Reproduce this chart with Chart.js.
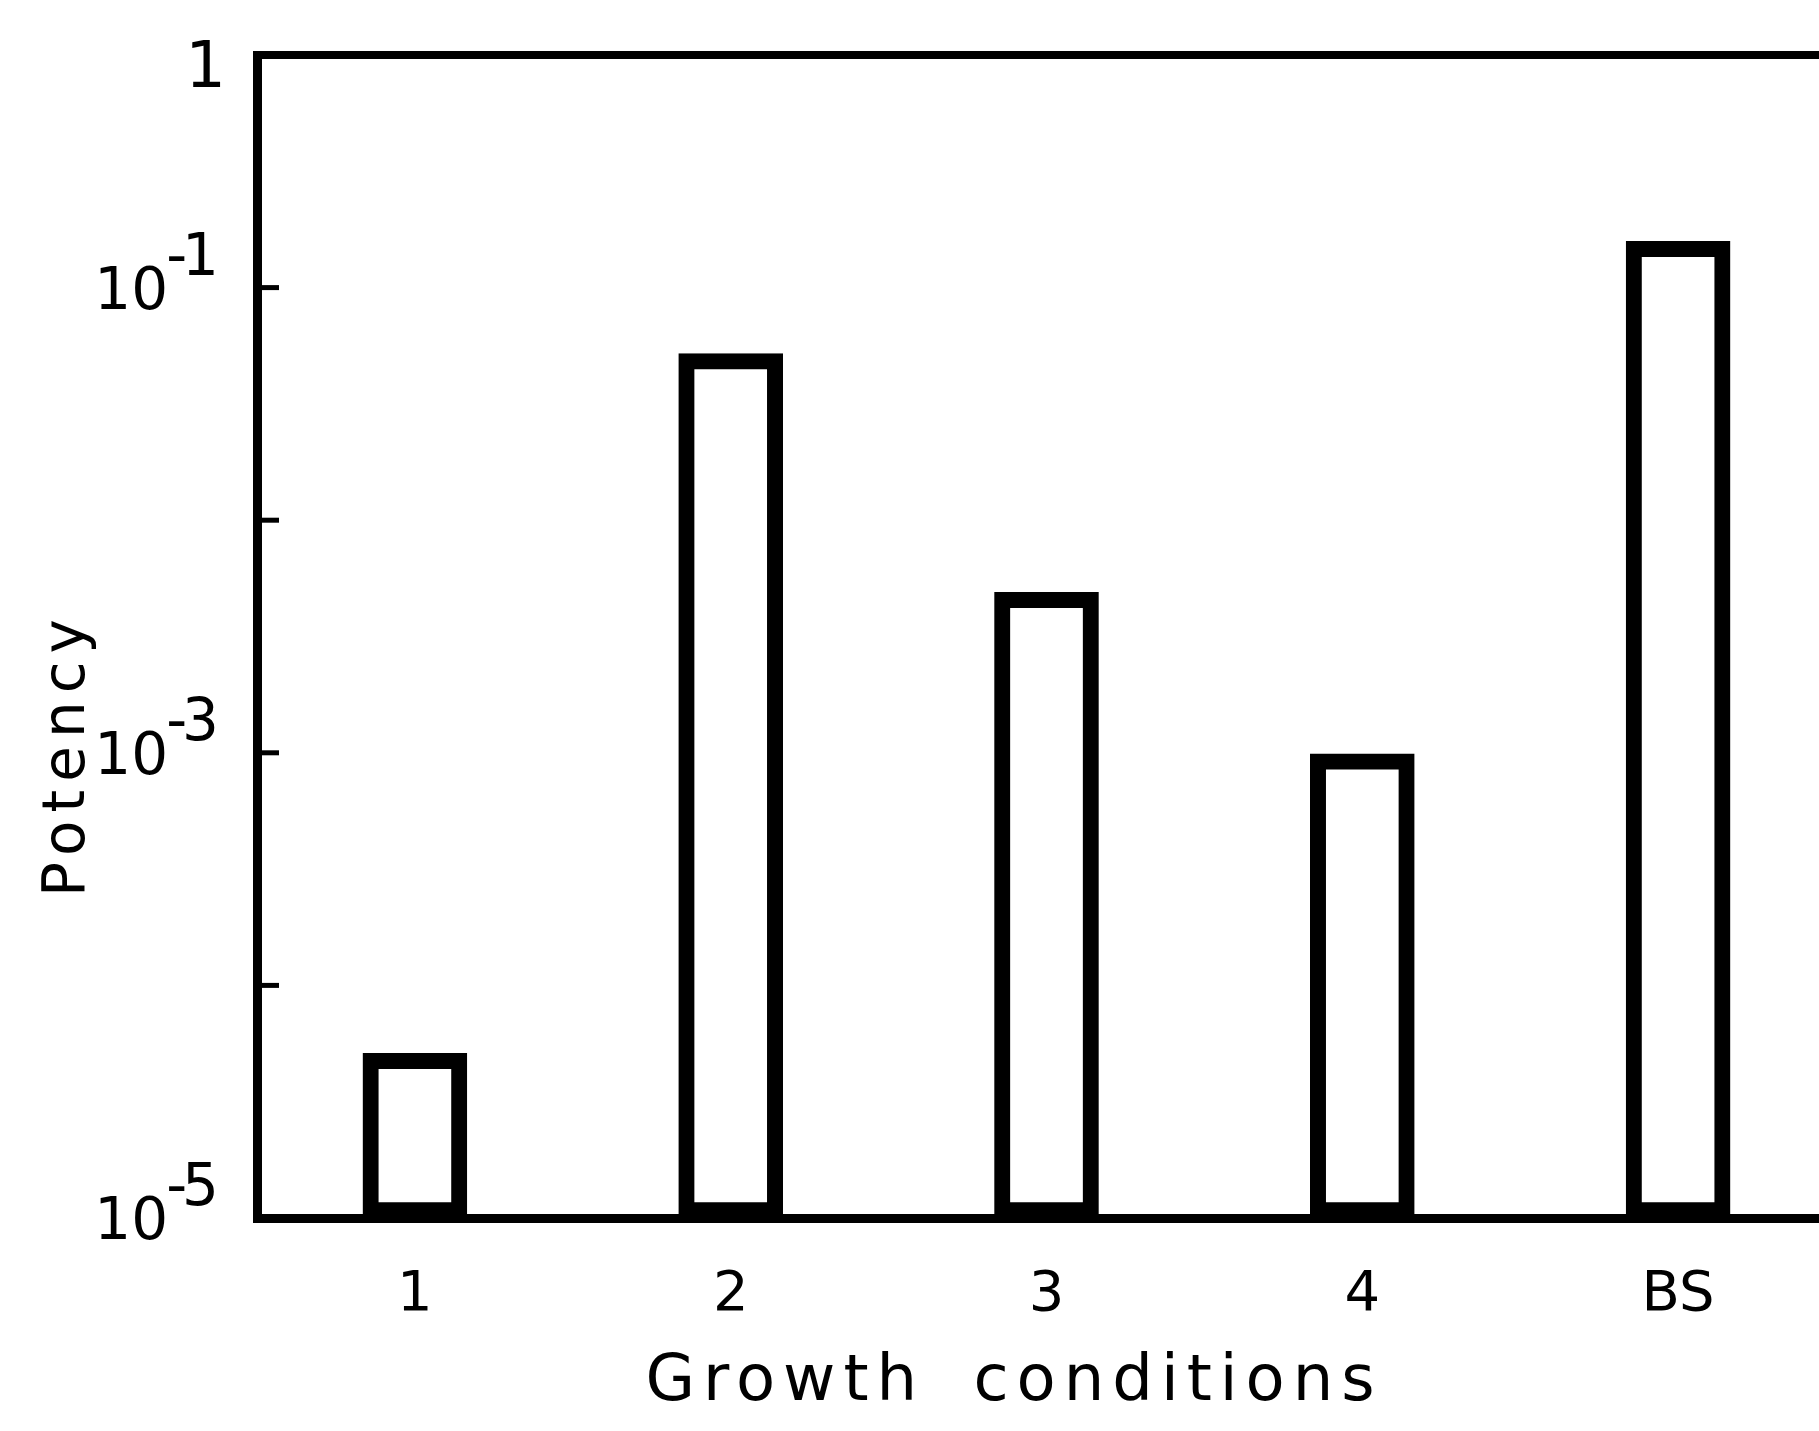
<!DOCTYPE html>
<html>
<head>
<meta charset="utf-8">
<script src="https://cdn.jsdelivr.net/npm/chart.js@4.4.0/dist/chart.umd.min.js"></script>
<style>
  html, body { margin: 0; padding: 0; background: #fff; overflow: hidden; }
  #wrap { width: 1819px; height: 1431px; overflow: hidden; }
  #inner { width: 1836px; height: 1431px; position: relative; }
</style>
</head>
<body>
<div id="wrap"><div id="inner"><canvas id="potencyChart"></canvas></div></div>
<script>
// growth conditions and measured potency (log scale)
const categories = ['1', '2', '3', '4', 'BS'];
const potency = [5.1e-5, 5.2e-2, 4.9e-3, 9.9e-4, 1.58e-1];

// y axis: decade tick marks and labelled decades
const decadeTicks = [1e-1, 1e-2, 1e-3, 1e-4];
const yLabelValues = [1, 1e-1, 1e-3, 1e-5];
const yLabelExponents = [null, '-1', '-3', '-5'];

const xTitle = 'Growth conditions';
const yTitle = 'Potency';

const FONT = '"DejaVu Sans", "Liberation Sans", sans-serif';

// frame line, inward ticks, superscript labels and axis titles
const decorations = {
    id: 'decorations',
    afterDraw(chart) {
        const ctx = chart.ctx;
        const area = chart.chartArea;
        const yScale = chart.scales.y;

        ctx.save();
        ctx.strokeStyle = '#000';
        ctx.fillStyle = '#000';

        // top frame line
        ctx.lineWidth = 8;
        ctx.beginPath();
        ctx.moveTo(area.left - 4, area.top);
        ctx.lineTo(area.right, area.top);
        ctx.stroke();

        // inward ticks at each decade
        ctx.lineWidth = 5;
        decadeTicks.forEach(v => {
            const py = yScale.getPixelForValue(v);
            ctx.beginPath();
            ctx.moveTo(area.left, py);
            ctx.lineTo(area.left + 22, py);
            ctx.stroke();
        });

        // y labels
        yLabelValues.forEach((v, i) => {
            const py = yScale.getPixelForValue(v);
            const exp = yLabelExponents[i];
            ctx.textBaseline = 'alphabetic';
            ctx.textAlign = 'right';
            if (exp === null) {
                ctx.font = '64px ' + FONT;
                ctx.letterSpacing = '0px';
                ctx.fillText('1', 226, py + 32);
                return;
            }
            const supRight = 214;
            ctx.font = '58px ' + FONT;
            ctx.letterSpacing = '-5px';
            const supW = ctx.measureText(exp).width;
            ctx.fillText(exp, supRight, py - 13);
            ctx.letterSpacing = '0px';
            ctx.fillText('10', supRight - supW + 2, py + 21);
        });

        // x title
        ctx.font = '64px ' + FONT;
        ctx.letterSpacing = '8px';
        ctx.wordSpacing = '20px';
        ctx.textAlign = 'center';
        ctx.textBaseline = 'alphabetic';
        ctx.fillText(xTitle, 1014, 1400);
        ctx.wordSpacing = '0px';

        // y title
        ctx.translate(84, 754);
        ctx.rotate(-Math.PI / 2);
        ctx.font = '58px ' + FONT;
        ctx.letterSpacing = '8px';
        ctx.fillText(yTitle, 0, 0);

        ctx.restore();
    }
};

const ctx = document.getElementById('potencyChart').getContext('2d');
new Chart(ctx, {
    type: 'bar',
    data: {
        labels: categories,
        datasets: [{
            data: potency,
            backgroundColor: '#fff',
            borderColor: '#000',
            borderWidth: 16,
            borderSkipped: false,
            barThickness: 104
        }]
    },
    options: {
        responsive: true,
        maintainAspectRatio: false,
        animation: false,
        layout: { padding: { top: 55, right: 0, bottom: 0, left: 0 } },
        plugins: {
            legend: { display: false },
            tooltip: { enabled: false }
        },
        scales: {
            x: {
                type: 'category',
                offset: true,
                grid: { display: false },
                border: { display: true, color: '#000', width: 9 },
                ticks: {
                    color: '#000',
                    font: { family: FONT, size: 56 },
                    padding: 36,
                    maxRotation: 0
                },
                afterFit(scale) { scale.height = 213; }
            },
            y: {
                type: 'logarithmic',
                min: 1e-5,
                max: 1,
                grid: { display: false },
                border: { display: true, color: '#000', width: 9 },
                ticks: { display: false },
                afterFit(scale) { scale.width = 257; }
            }
        }
    },
    plugins: [decorations]
});
</script>
</body>
</html>
